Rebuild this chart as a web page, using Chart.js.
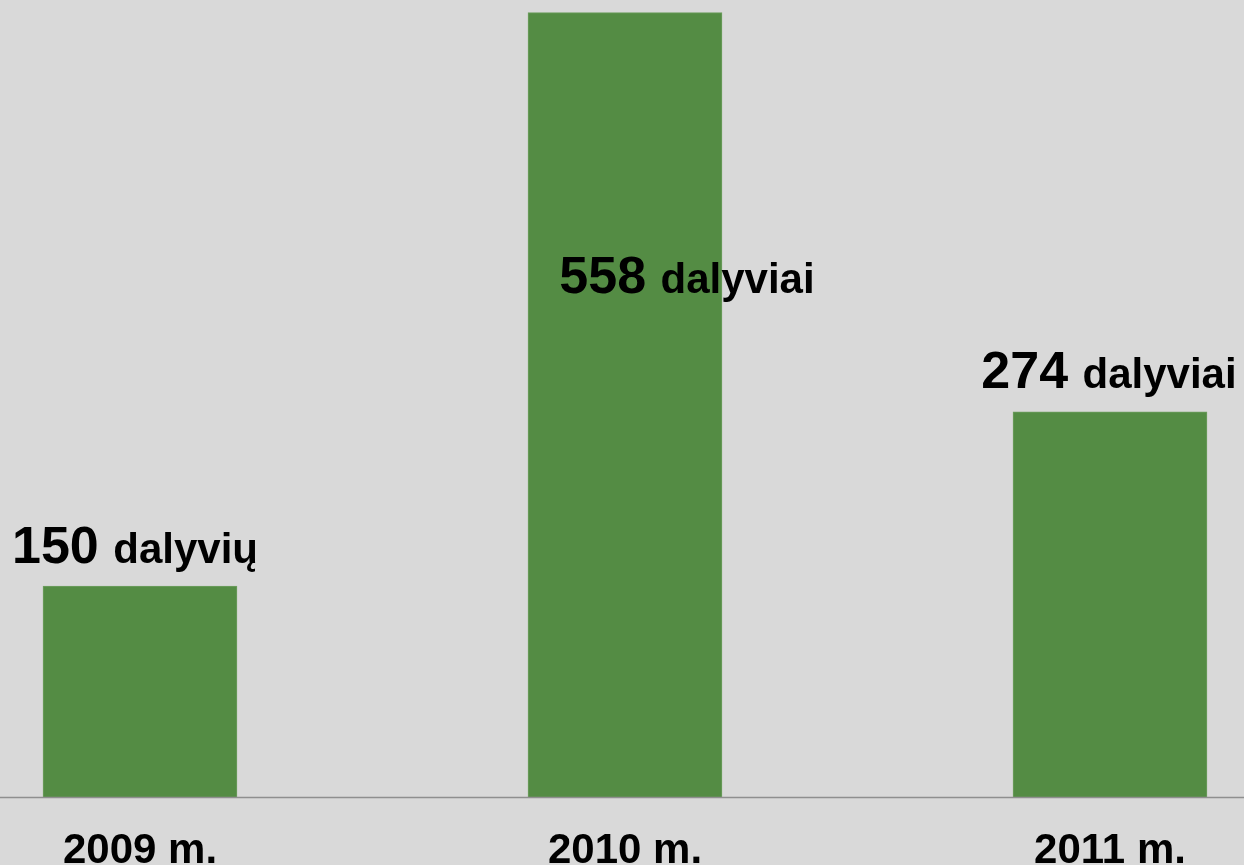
<!DOCTYPE html>
<html lang="lt">
<head>
    <meta charset="UTF-8">
    <title>Dalyviai</title>
    <style>
        body {
            margin: 0;
            background-color: #d9d9d9;
        }
        canvas {
            display: block;
        }
    </style>
    <script src="https://cdn.jsdelivr.net/npm/chart.js"></script>
</head>
<body>

<canvas id="chart" width="1244" height="865"></canvas>

<script>
    // Data
    const years = ['2009 m.', '2010 m.', '2011 m.'];
    const participants = [150, 558, 274];
    const units = ['dalyvių', 'dalyviai', 'dalyviai'];

    // Value labels: number in big type, unit in smaller type
    const valueLabels = {
        id: 'valueLabels',
        afterDatasetsDraw(chart) {
            const ctx = chart.ctx;
            const meta = chart.getDatasetMeta(0);
            // per-bar label placement (dx from bar centre, dy from bar top)
            const place = [
                { dx: -5, dy: -23 },
                { dx: 62, dy: 280 },
                { dx: -1, dy: -24 }
            ];
            const numFont = 'bold 52px "Liberation Sans", Arial, sans-serif';
            const unitFont = 'bold 42px "Liberation Sans", Arial, sans-serif';
            ctx.save();
            ctx.fillStyle = '#000';
            ctx.textBaseline = 'alphabetic';
            ctx.textAlign = 'left';
            meta.data.forEach((bar, i) => {
                const numText = participants[i] + ' ';
                ctx.font = numFont;
                const w1 = ctx.measureText(numText).width;
                ctx.font = unitFont;
                const w2 = ctx.measureText(units[i]).width;
                const x0 = bar.x + place[i].dx - (w1 + w2) / 2;
                const y0 = bar.y + place[i].dy;
                ctx.font = numFont;
                ctx.fillText(numText, x0, y0);
                ctx.font = unitFont;
                ctx.fillText(units[i], x0 + w1, y0);
            });
            ctx.restore();
        }
    };

    // Baseline across the full width and the year labels under it
    const axisLine = {
        id: 'axisLine',
        afterDraw(chart) {
            const ctx = chart.ctx;
            const xScale = chart.scales.x;
            const yBase = Math.round(chart.scales.y.getPixelForValue(0)) + 0.5;
            ctx.save();
            ctx.strokeStyle = '#8f8f8f';
            ctx.lineWidth = 1.5;
            ctx.beginPath();
            ctx.moveTo(0, yBase);
            ctx.lineTo(chart.width, yBase);
            ctx.stroke();

            ctx.fillStyle = '#000';
            ctx.font = 'bold 42px "Liberation Sans", Arial, sans-serif';
            ctx.textAlign = 'center';
            ctx.textBaseline = 'alphabetic';
            years.forEach((label, i) => {
                ctx.fillText(label, xScale.getPixelForValue(i), yBase + 65);
            });
            ctx.restore();
        }
    };

    const ctx = document.getElementById('chart').getContext('2d');
    const chart = new Chart(ctx, {
        type: 'bar',
        data: {
            labels: years,
            datasets: [{
                data: participants,
                backgroundColor: '#548c44',
                borderColor: '#6f9f60',
                borderWidth: 1,
                barThickness: 194,
                clip: false
            }]
        },
        options: {
            responsive: false,
            animation: false,
            layout: {
                padding: { left: 140, right: 134, top: 0, bottom: 68 }
            },
            plugins: {
                legend: { display: false },
                tooltip: { enabled: false }
            },
            scales: {
                x: {
                    display: false,
                    offset: false
                },
                y: {
                    display: false,
                    min: 0,
                    max: 567
                }
            }
        },
        plugins: [valueLabels, axisLine]
    });
</script>

</body>
</html>
